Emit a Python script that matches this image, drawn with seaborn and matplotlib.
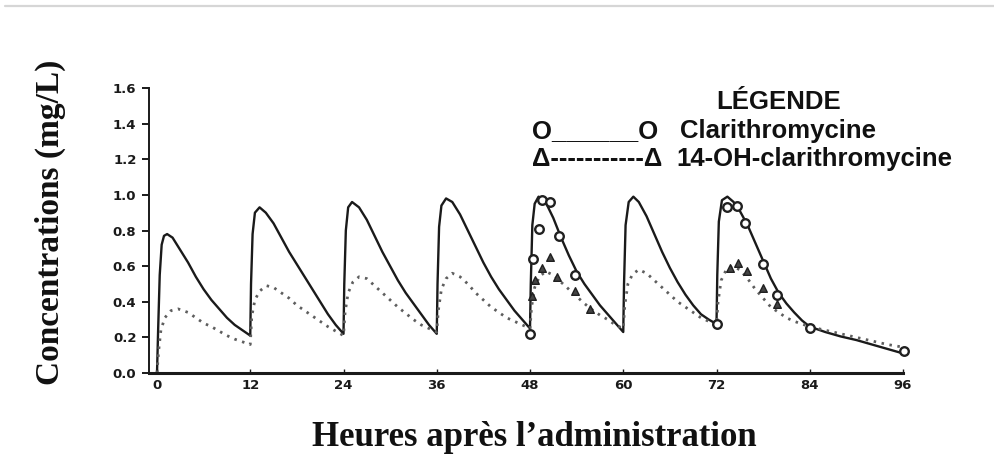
import matplotlib
matplotlib.use("Agg")
import matplotlib.pyplot as plt
import seaborn as sns
import pandas as pd
from matplotlib.lines import Line2D

# ---------------- data ----------------
x_ticks = [0, 12, 24, 36, 48, 60, 72, 84, 96]
x_tick_labels = ["0", "12", "24", "36", "48", "60", "72", "84", "96"]
y_ticks = [0.0, 0.2, 0.4, 0.6, 0.8, 1.0, 1.2, 1.4, 1.6]
y_tick_labels = ["0.0", "0.2", "0.4", "0.6", "0.8", "1.0", "1.2", "1.4", "1.6"]

# Clarithromycine – fitted curve (solid)
clar_hours = [0, 0.15, 0.35, 0.6, 0.9, 1.3, 2, 3, 4, 5, 6, 7, 8, 9, 10, 11, 12,
              12.1, 12.3, 12.6, 13.2, 14, 15, 16, 17, 18, 19, 20, 21, 22, 23, 24,
              24.1, 24.3, 24.6, 25.1, 26, 27, 28, 29, 30, 31, 32, 33, 34, 35, 36,
              36.1, 36.3, 36.6, 37.2, 38, 39, 40, 41, 42, 43, 44, 45, 46, 47, 48,
              48.1, 48.3, 48.6, 49.1, 50, 51, 52, 53, 54, 55, 56, 57, 58, 59, 60,
              60.1, 60.3, 60.7, 61.3, 62, 63, 64, 65, 66, 67, 68, 69, 70, 71, 72,
              72.1, 72.3, 72.7, 73.4, 74.2, 75, 76, 77, 78, 79, 80, 81, 82, 83, 84,
              86, 88, 90, 92, 94, 96]
clar_conc = [0, 0.25, 0.55, 0.72, 0.77, 0.78, 0.76, 0.69, 0.62, 0.54, 0.47, 0.41, 0.36, 0.31, 0.27, 0.24, 0.21,
             0.50, 0.78, 0.90, 0.93, 0.90, 0.84, 0.76, 0.68, 0.61, 0.54, 0.47, 0.40, 0.33, 0.27, 0.22,
             0.50, 0.80, 0.93, 0.96, 0.93, 0.86, 0.77, 0.68, 0.60, 0.52, 0.45, 0.39, 0.33, 0.27, 0.22,
             0.50, 0.82, 0.94, 0.98, 0.96, 0.89, 0.80, 0.71, 0.62, 0.54, 0.47, 0.41, 0.35, 0.30, 0.25,
             0.50, 0.83, 0.95, 0.99, 0.96, 0.87, 0.76, 0.66, 0.57, 0.50, 0.44, 0.38, 0.33, 0.28, 0.23,
             0.50, 0.83, 0.96, 0.99, 0.96, 0.88, 0.78, 0.68, 0.59, 0.51, 0.44, 0.38, 0.33, 0.30, 0.275,
             0.55, 0.85, 0.97, 0.99, 0.96, 0.91, 0.83, 0.73, 0.63, 0.53, 0.45, 0.39, 0.34, 0.295, 0.26,
             0.23, 0.205, 0.185, 0.16, 0.135, 0.11]

# 14-OH-clarithromycine – fitted curve (dotted)
oh_hours = [0, 0.2, 0.5, 1, 1.8, 2.7, 4, 5, 6, 7, 8, 9, 10, 11, 12,
            12.2, 12.6, 13.2, 14.1, 15, 16, 17, 18, 19, 20, 21, 22, 23, 24,
            24.2, 24.6, 25.2, 26, 27, 28, 29, 30, 31, 32, 33, 34, 35, 36,
            36.2, 36.6, 37.2, 38, 39, 40, 41, 42, 43, 44, 45, 46, 47, 48,
            48.2, 48.6, 49.2, 50, 51, 52, 53, 54, 55, 56, 57, 58, 59, 60,
            60.2, 60.6, 61.2, 62, 63, 64, 65, 66, 67, 68, 69, 70, 71, 72,
            72.2, 72.6, 73.2, 74, 75, 76, 77, 78, 79, 80, 81, 82, 83, 84,
            86, 88, 90, 92, 94, 96]
oh_conc = [0, 0.12, 0.24, 0.31, 0.35, 0.36, 0.34, 0.31, 0.28, 0.26, 0.235, 0.21, 0.19, 0.175, 0.16,
           0.32, 0.41, 0.46, 0.49, 0.48, 0.45, 0.42, 0.38, 0.35, 0.32, 0.29, 0.26, 0.235, 0.21,
           0.34, 0.45, 0.51, 0.54, 0.53, 0.49, 0.45, 0.41, 0.37, 0.335, 0.30, 0.27, 0.25, 0.23,
           0.35, 0.47, 0.53, 0.56, 0.54, 0.50, 0.45, 0.41, 0.37, 0.34, 0.31, 0.29, 0.27, 0.25,
           0.37, 0.48, 0.54, 0.57, 0.55, 0.51, 0.47, 0.43, 0.39, 0.355, 0.325, 0.30, 0.27, 0.25,
           0.38, 0.50, 0.555, 0.58, 0.56, 0.52, 0.48, 0.44, 0.40, 0.37, 0.34, 0.31, 0.29, 0.27,
           0.40, 0.52, 0.575, 0.60, 0.58, 0.53, 0.47, 0.42, 0.37, 0.34, 0.31, 0.29, 0.275, 0.26,
           0.24, 0.22, 0.20, 0.18, 0.16, 0.145]

# observed points
clar_obs_hours = [48.0, 48.4, 49.1, 49.5, 50.6, 51.7, 53.8,
                  72.0, 73.3, 74.6, 75.7, 78.0, 79.8, 84.0, 96.1]
clar_obs_conc = [0.22, 0.64, 0.81, 0.97, 0.96, 0.77, 0.55,
                 0.275, 0.93, 0.94, 0.84, 0.61, 0.44, 0.25, 0.125]
oh_obs_hours = [48.3, 48.7, 49.5, 50.6, 51.5, 53.8, 55.7,
                73.8, 74.8, 75.9, 78.0, 79.8]
oh_obs_conc = [0.43, 0.52, 0.59, 0.65, 0.54, 0.46, 0.36,
               0.59, 0.62, 0.57, 0.48, 0.39]

# ---------------- figure ----------------
sns.set_style("white")
plt.rcParams['font.family'] = ['Liberation Sans', 'DejaVu Sans']

W, H = 995, 467
fig = plt.figure(figsize=(W / 100, H / 100), dpi=100)
fig.patch.set_facecolor("white")


def fx(px):
    return px / W


def fy(py):
    return 1 - py / H


ax = fig.add_axes([fx(149), fy(373), (903 - 149) / W, (373 - 88) / H])
ax.set_facecolor("white")

clar_df = pd.DataFrame({"h": clar_hours, "c": clar_conc})
oh_df = pd.DataFrame({"h": oh_hours, "c": oh_conc})

sns.lineplot(data=clar_df, x="h", y="c", ax=ax, color="#1a1a1a", lw=1.7,
             sort=False, estimator=None)
sns.lineplot(data=oh_df, x="h", y="c", ax=ax, color="#5e5e5e", lw=2.0,
             sort=False, estimator=None)
ax.lines[-1].set_linestyle((0, (0.9, 2.0)))

sns.scatterplot(x=clar_obs_hours, y=clar_obs_conc, ax=ax, marker="o", s=38,
                facecolor="white", edgecolor="#202020", linewidth=1.7,
                clip_on=False, zorder=5)
sns.scatterplot(x=oh_obs_hours, y=oh_obs_conc, ax=ax, marker="^", s=30,
                facecolor="#444444", edgecolor="#202020", linewidth=1.0,
                clip_on=False, zorder=5)

ax.set_xlim(-1.03, 96)
ax.set_ylim(0, 1.6)
ax.set_xlabel("")
ax.set_ylabel("")

for s in ["top", "right"]:
    ax.spines[s].set_visible(False)
ax.spines["left"].set_linewidth(1.4)
ax.spines["left"].set_color("#1a1a1a")
ax.spines["bottom"].set_linewidth(2.2)
ax.spines["bottom"].set_color("#1a1a1a")

ax.set_xticks(x_ticks)
ax.set_xticklabels(x_tick_labels, fontsize=9.5, fontweight="bold",
                   family=["DejaVu Sans"], color="#222222")
ax.set_yticks(y_ticks)
ax.set_yticklabels(y_tick_labels, fontsize=9.5, fontweight="bold",
                   family=["DejaVu Sans"], color="#222222")
ax.tick_params(axis="y", direction="out", length=5, width=1.4, pad=4,
               colors="#1a1a1a", left=True)
ax.tick_params(axis="x", direction="in", length=3, width=1.0, pad=4,
               colors="#1a1a1a", bottom=True)

# axis titles
fig.text(fx(50), fy(222), "Concentrations (mg/L)", rotation=90,
         ha="center", va="center", fontsize=24, fontweight="bold",
         family=["Liberation Serif", "DejaVu Serif"], color="#111111")
fig.text(fx(534), fy(437), "Heures après l\u2019administration",
         ha="center", va="center", fontsize=25, fontweight="bold",
         family=["Liberation Serif", "DejaVu Serif"], color="#111111")

# legend block (text)
LEG_FS = 18.5
fig.text(fx(779), fy(102), "LÉGENDE", ha="center", va="center",
         fontsize=LEG_FS, fontweight="bold", color="#111111")
fig.text(fx(532), fy(131), "O______O", ha="left", va="center",
         fontsize=LEG_FS, fontweight="bold", color="#111111")
fig.text(fx(680), fy(131), "Clarithromycine", ha="left", va="center",
         fontsize=LEG_FS, fontweight="bold", color="#111111")
fig.text(fx(532), fy(159), "\u0394-----------\u0394", ha="left", va="center",
         fontsize=LEG_FS, fontweight="bold", color="#111111")
fig.text(fx(676), fy(159), "14-OH-clarithromycine", ha="left", va="center",
         fontsize=LEG_FS, fontweight="bold", color="#111111")

# thin grey frame line at the top
fig.add_artist(Line2D([fx(5), fx(995)], [fy(6), fy(6)], color="#d6d6d6",
                      lw=1.6, transform=fig.transFigure))

fig.savefig("out.png", dpi=100, facecolor="white")
